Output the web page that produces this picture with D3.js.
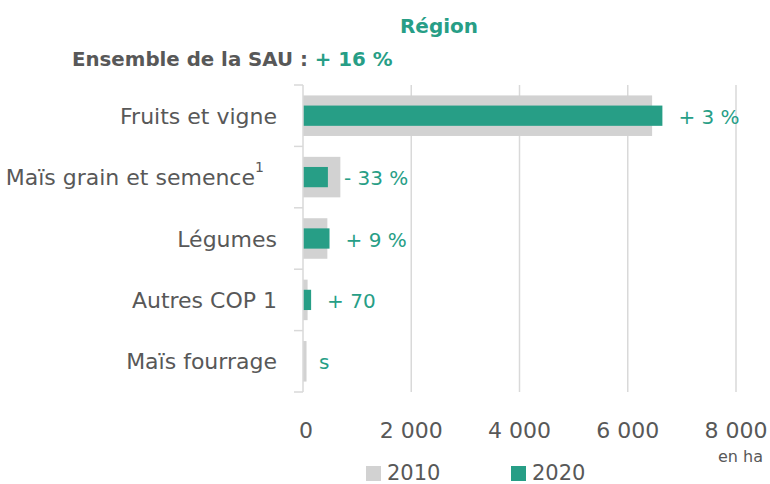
<!DOCTYPE html>
<html lang="fr">
<head>
<meta charset="UTF-8">
<title>Région - SAU</title>
<style>
    body { margin: 0; background: #fff; }
    svg text { font-family: "DejaVu Sans", "Noto Sans", sans-serif; }
</style>
</head>
<body>
<div id="chart"></div>
<script src="https://d3js.org/d3.v7.min.js"></script>
<script>
    const categories = ["Fruits et vigne", "Maïs grain et semence", "Légumes", "Autres COP 1", "Maïs fourrage"];
    const superscripts = ["", "1", "", "", ""];
    const values2010 = [6450, 690, 450, 85, 65];
    const values2020 = [6640, 460, 490, 150, 0];
    const changeLabels = ["+ 3 %", "- 33 %", "+ 9 %", "+ 70", "s"];
    const ticks = [0, 2000, 4000, 6000, 8000];

    const green = "#279e86", grey = "#d2d2d2", textCol = "#585858";

    const W = 770, H = 484;
    const svg = d3.select("#chart").append("svg")
        .attr("width", W).attr("height", H);

    const x = d3.scaleLinear().domain([0, 8000]).range([303, 736]);
    const y = d3.scaleBand().domain(categories).range([85, 392]).paddingInner(0.34).paddingOuter(0.17);

    // gridlines
    svg.append("g").selectAll("line")
        .data(ticks.slice(1))
        .join("line")
        .attr("x1", d => x(d)).attr("x2", d => x(d))
        .attr("y1", 85).attr("y2", 392)
        .attr("stroke", "#d9d9d9").attr("stroke-width", 1.5);

    // bars 2010
    svg.append("g").selectAll("rect")
        .data(categories)
        .join("rect")
        .attr("x", x(0))
        .attr("y", d => y(d))
        .attr("width", (d, i) => x(values2010[i]) - x(0))
        .attr("height", y.bandwidth())
        .attr("fill", grey);

    // bars 2020
    const h2 = y.bandwidth() / 2;
    svg.append("g").selectAll("rect")
        .data(categories)
        .join("rect")
        .attr("x", x(0))
        .attr("y", d => y(d) + (y.bandwidth() - h2) / 2)
        .attr("width", (d, i) => x(values2020[i]) - x(0))
        .attr("height", h2)
        .attr("fill", green);

    // change labels
    svg.append("g").selectAll("text")
        .data(categories)
        .join("text")
        .attr("x", (d, i) => x(values2020[i]) + 16)
        .attr("y", d => y(d) + y.bandwidth() / 2 + 8)
        .attr("fill", green)
        .attr("font-size", 20)
        .text((d, i) => changeLabels[i]);

    // y axis line with tick marks between categories
    const yAxis = svg.append("g").attr("stroke", "#d9d9d9").attr("stroke-width", 1.5);
    yAxis.append("line").attr("x1", x(0)).attr("x2", x(0)).attr("y1", 85).attr("y2", 392);
    const bounds = categories.map(d => y(d) - y.step() * y.paddingInner() / 2).concat([392]);
    bounds[0] = 85;
    yAxis.selectAll(".tk").data(bounds).join("line")
        .attr("x1", x(0) - 9).attr("x2", x(0))
        .attr("y1", d => d).attr("y2", d => d);

    // category labels
    svg.append("g").selectAll("text")
        .data(categories)
        .join("text")
        .attr("x", (d, i) => superscripts[i] ? 255 : 277)
        .attr("y", d => y(d) + y.bandwidth() / 2 + 8)
        .attr("text-anchor", "end")
        .attr("fill", textCol)
        .attr("font-size", 22)
        .text(d => d);
    superscripts.forEach((s, i) => {
        if (!s) return;
        svg.append("text")
            .attr("x", 255).attr("y", y(categories[i]) + y.bandwidth() / 2 - 5)
            .attr("fill", textCol).attr("font-size", 14)
            .text(s);
    });

    // x tick labels
    svg.append("g").selectAll("text")
        .data(ticks)
        .join("text")
        .attr("x", d => x(d) + (d === 0 ? 3 : 0))
        .attr("y", 438)
        .attr("text-anchor", "middle")
        .attr("fill", textCol)
        .attr("font-size", 22)
        .text(d => d3.format(",")(d).replace(",", " "));

    svg.append("text")
        .attr("x", 763).attr("y", 462)
        .attr("text-anchor", "end")
        .attr("fill", textCol).attr("font-size", 16)
        .text("en ha");

    // titles
    svg.append("text")
        .attr("x", 439).attr("y", 33)
        .attr("text-anchor", "middle")
        .attr("fill", green).attr("font-size", 20).attr("font-weight", "bold")
        .text("Région");
    const sub = svg.append("text")
        .attr("x", 72).attr("y", 66)
        .attr("font-size", 19.8).attr("font-weight", "bold")
        .attr("fill", textCol);
    sub.append("tspan").text("Ensemble de la SAU : ");
    sub.append("tspan").attr("fill", green).text("+ 16 %");

    // legend
    const legend = [["2010", grey, 366], ["2020", green, 511]];
    legend.forEach(([lab, col, lx]) => {
        svg.append("rect").attr("x", lx).attr("y", 466).attr("width", 15).attr("height", 15).attr("fill", col);
        svg.append("text").attr("x", lx + 21).attr("y", 480)
            .attr("fill", textCol).attr("font-size", 21).text(lab);
    });
</script>
</body>
</html>
